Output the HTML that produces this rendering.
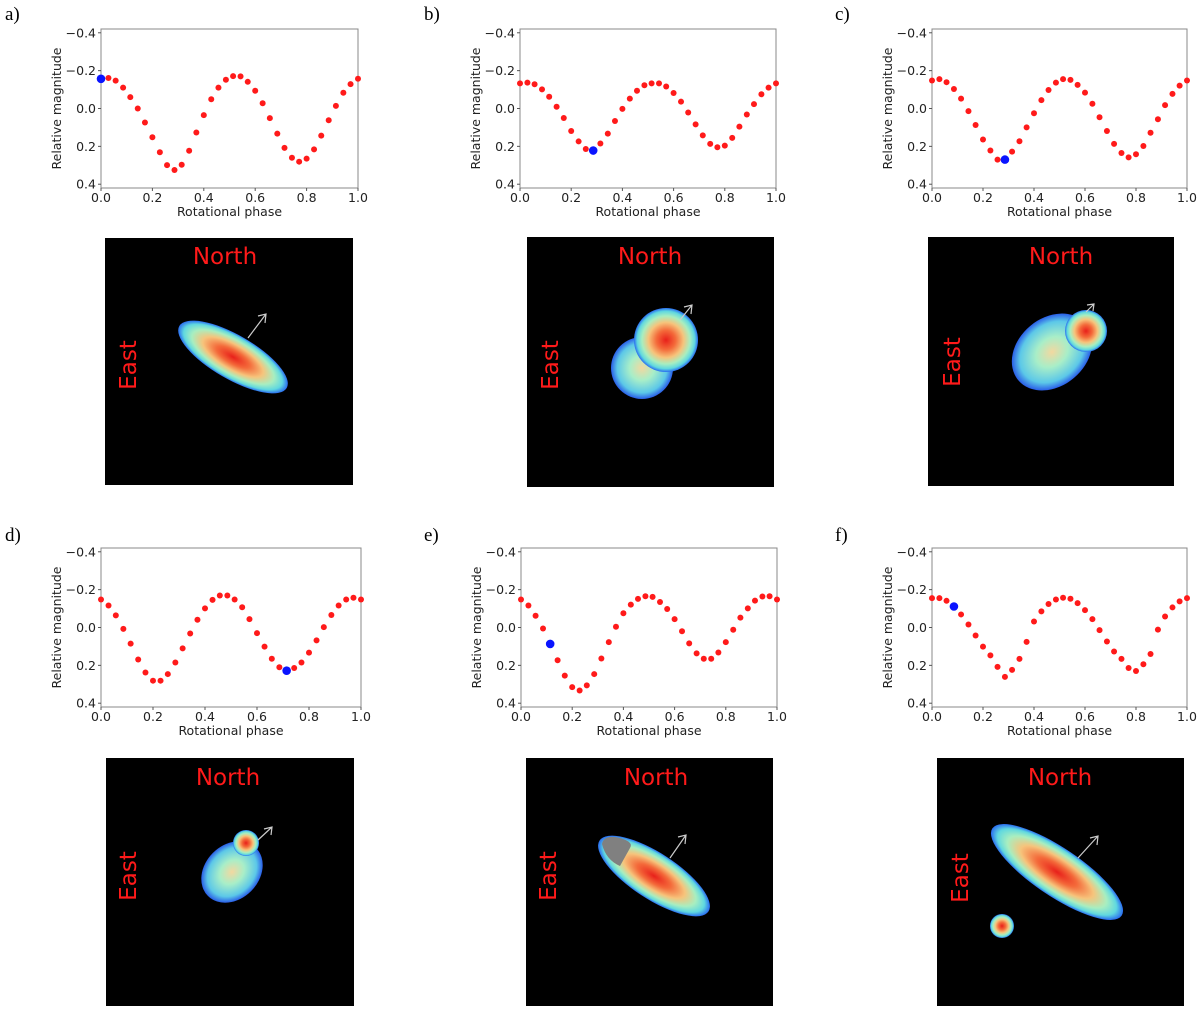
<!DOCTYPE html>
<html><head><meta charset="utf-8">
<style>
html,body{margin:0;padding:0;background:#fff;}
svg{display:block;}
text{font-family:"DejaVu Sans","Liberation Sans",sans-serif;}
.lab{font-family:"Liberation Serif",serif;font-size:19px;fill:#000;}
.tick{font-size:12.5px;fill:#222;}
.axl{font-size:12.5px;fill:#222;}
.dir{font-size:23px;fill:#ff1a1a;}
</style></head>
<body>
<svg id="fig" width="1200" height="1010" viewBox="0 0 1200 1010" xmlns="http://www.w3.org/2000/svg">
<defs>
<radialGradient id="jet" cx="50%" cy="50%" r="50%">
<stop offset="0" stop-color="#e8201a"/>
<stop offset="0.3" stop-color="#f46a3a"/>
<stop offset="0.55" stop-color="#f6c47c"/>
<stop offset="0.75" stop-color="#a8eec0"/>
<stop offset="0.9" stop-color="#5fd8e0"/>
<stop offset="1" stop-color="#2a6cf0"/>
</radialGradient>
<radialGradient id="jet2" cx="50%" cy="50%" r="50%">
<stop offset="0" stop-color="#f2d8a0"/>
<stop offset="0.4" stop-color="#a8eec8"/>
<stop offset="0.8" stop-color="#5cc8e8"/>
<stop offset="1" stop-color="#2a5ee8"/>
</radialGradient>
</defs>
<g id="charts"></g>
<g id="images">
  <!-- a -->
  <g>
    <rect x="105" y="238" width="248" height="247" fill="#000"/>
    <text class="dir" x="225" y="264" text-anchor="middle">North</text>
    <text class="dir" transform="translate(136,365) rotate(-90)" text-anchor="middle">East</text>
    <ellipse cx="233" cy="357" rx="62" ry="22" transform="rotate(30 233 357)" fill="url(#jet)"/>
    <path d="M248,338 L266,314 M258,316 L266,314 L265,323" stroke="#ccc" stroke-width="1.2" fill="none"/>
  </g>
  <!-- b -->
  <g>
    <rect x="527" y="237" width="247" height="250" fill="#000"/>
    <text class="dir" x="650" y="264" text-anchor="middle">North</text>
    <text class="dir" transform="translate(558,365) rotate(-90)" text-anchor="middle">East</text>
    <circle cx="642" cy="368" r="31" fill="url(#jet2)"/>
    <circle cx="666" cy="340" r="32" fill="url(#jet)"/>
    <path d="M680,320 L692,305 M684,307 L692,305 L691,314" stroke="#ccc" stroke-width="1.2" fill="none"/>
  </g>
  <!-- c -->
  <g>
    <rect x="928" y="237" width="246" height="249" fill="#000"/>
    <text class="dir" x="1061" y="264" text-anchor="middle">North</text>
    <text class="dir" transform="translate(960,362) rotate(-90)" text-anchor="middle">East</text>
    <ellipse cx="1052" cy="352" rx="44" ry="34" transform="rotate(-40 1052 352)" fill="url(#jet2)"/>
    <circle cx="1086" cy="331" r="21" fill="url(#jet)"/>
    <path d="M1086,312 L1094,304 M1087,305 L1094,304 L1093,311" stroke="#ccc" stroke-width="1.2" fill="none"/>
  </g>
  <!-- d -->
  <g>
    <rect x="106" y="758" width="248" height="248" fill="#000"/>
    <text class="dir" x="228" y="785" text-anchor="middle">North</text>
    <text class="dir" transform="translate(136,876) rotate(-90)" text-anchor="middle">East</text>
    <ellipse cx="232" cy="872" rx="34" ry="27" transform="rotate(-45 232 872)" fill="url(#jet2)"/>
    <circle cx="246" cy="843" r="13" fill="url(#jet)"/>
    <path d="M258,840 L272,827 M264,829 L272,827 L271,835" stroke="#ccc" stroke-width="1.2" fill="none"/>
  </g>
  <!-- e -->
  <g>
    <rect x="526" y="758" width="247" height="248" fill="#000"/>
    <text class="dir" x="656" y="785" text-anchor="middle">North</text>
    <text class="dir" transform="translate(556,876) rotate(-90)" text-anchor="middle">East</text>
    <ellipse cx="654" cy="876" rx="65" ry="23" transform="rotate(33 654 876)" fill="url(#jet)"/>
    <path d="M602,844 Q604,834 620,838 Q634,842 630,848 L620,866 Q606,860 602,844 Z" fill="#808080"/>
    <path d="M670,858 L686,835 M678,837 L686,835 L685,844" stroke="#ccc" stroke-width="1.2" fill="none"/>
  </g>
  <!-- f -->
  <g>
    <rect x="937" y="758" width="247" height="248" fill="#000"/>
    <text class="dir" x="1060" y="785" text-anchor="middle">North</text>
    <text class="dir" transform="translate(968,878) rotate(-90)" text-anchor="middle">East</text>
    <ellipse cx="1057" cy="872" rx="78" ry="24" transform="rotate(34 1057 872)" fill="url(#jet)"/>
    <circle cx="1002" cy="926" r="12" fill="url(#jet)"/>
    <path d="M1078,858 L1098,836 M1090,838 L1098,836 L1097,845" stroke="#ccc" stroke-width="1.2" fill="none"/>
  </g>
</g>
</svg>
<script>
const phase = [0,0.029,0.057,0.086,0.114,0.143,0.171,0.2,0.229,0.257,0.286,0.314,0.343,0.371,0.4,0.429,0.457,0.486,0.514,0.543,0.571,0.6,0.629,0.657,0.686,0.714,0.743,0.771,0.8,0.829,0.857,0.886,0.914,0.943,0.971,1];
const magA = [-0.157,-0.161,-0.147,-0.110,-0.060,0,0.074,0.152,0.231,0.299,0.325,0.297,0.223,0.127,0.035,-0.049,-0.110,-0.152,-0.171,-0.170,-0.141,-0.094,-0.028,0.051,0.133,0.208,0.260,0.281,0.265,0.216,0.143,0.062,-0.014,-0.083,-0.129,-0.157];
const magB = [-0.133,-0.137,-0.128,-0.101,-0.062,-0.009,0.050,0.119,0.174,0.214,0.222,0.185,0.133,0.066,0.002,-0.052,-0.094,-0.123,-0.133,-0.133,-0.116,-0.082,-0.036,0.021,0.084,0.142,0.187,0.205,0.196,0.155,0.096,0.032,-0.023,-0.075,-0.110,-0.133];
const magC = [-0.148,-0.155,-0.139,-0.103,-0.052,0.014,0.087,0.164,0.222,0.270,0.270,0.228,0.173,0.100,0.025,-0.044,-0.098,-0.137,-0.155,-0.151,-0.125,-0.084,-0.025,0.046,0.119,0.187,0.235,0.258,0.242,0.198,0.128,0.057,-0.018,-0.077,-0.121,-0.148];
const magD = [-0.148,-0.116,-0.064,0.007,0.085,0.169,0.238,0.281,0.281,0.246,0.185,0.110,0.032,-0.041,-0.101,-0.146,-0.169,-0.169,-0.148,-0.107,-0.044,0.030,0.101,0.165,0.210,0.228,0.214,0.185,0.133,0.068,-0.002,-0.066,-0.116,-0.148,-0.157,-0.148];
const magE = [-0.148,-0.116,-0.062,0.005,0.087,0.173,0.254,0.315,0.333,0.306,0.246,0.164,0.077,-0.004,-0.075,-0.121,-0.151,-0.165,-0.162,-0.135,-0.098,-0.044,0.020,0.084,0.137,0.165,0.165,0.132,0.077,0.012,-0.052,-0.101,-0.142,-0.164,-0.165,-0.148];
const magF = [-0.155,-0.155,-0.141,-0.111,-0.069,-0.016,0.042,0.101,0.147,0.208,0.261,0.224,0.166,0.076,-0.032,-0.085,-0.124,-0.148,-0.157,-0.152,-0.129,-0.092,-0.044,0.014,0.074,0.127,0.166,0.214,0.230,0.194,0.140,0.011,-0.058,-0.106,-0.138,-0.155];
const currentIndex = [0,10,10,25,4,3];
const panelLetters = ["a)","b)","c)","d)","e)","f)"];
const xTicks = [0,0.2,0.4,0.6,0.8,1.0];
const xTickLabels = ["0.0","0.2","0.4","0.6","0.8","1.0"];
const yTicks = [-0.4,-0.2,0,0.2,0.4];
const yTickLabels = ["\u22120.4","\u22120.2","0.0","0.2","0.4"];
const series = [magA,magB,magC,magD,magE,magF];

const boxes = [
  {x0:101,x1:358,y0:29,y1:188,lx:5,ly:20},
  {x0:520,x1:776,y0:29,y1:188,lx:424,ly:20},
  {x0:932,x1:1187,y0:29,y1:188,lx:835,ly:20},
  {x0:101,x1:361,y0:548,y1:707,lx:5,ly:541},
  {x0:521,x1:777,y0:548,y1:707,lx:424,ly:541},
  {x0:932,x1:1187,y0:548,y1:707,lx:835,ly:541}
];
const NS="http://www.w3.org/2000/svg";
const root=document.getElementById('charts');
function mk(tag,attrs,parent){const e=document.createElementNS(NS,tag);for(const k in attrs)e.setAttribute(k,attrs[k]);parent.appendChild(e);return e;}
const Y0=-0.42,Y1=0.42;
boxes.forEach((b,p)=>{
  const xs=v=>b.x0+(b.x1-b.x0)*v;
  const ys=v=>b.y0+(b.y1-b.y0)*(v-Y0)/(Y1-Y0);
  const g=mk('g',{},root);
  
  
  const lab=mk('text',{x:b.lx,y:b.ly,'class':'lab'},g);lab.textContent=panelLetters[p];
  
  
  const r=mk('rect',{x:b.x0,y:b.y0,width:b.x1-b.x0,height:b.y1-b.y0,fill:'none',stroke:'#888','stroke-width':1},g);
  
  
  xTicks.forEach((t,i)=>{
    mk('line',{x1:xs(t),x2:xs(t),y1:b.y1,y2:b.y1+3,stroke:'#555'},g);
    const tx=mk('text',{x:xs(t),y:b.y1+14,'text-anchor':'middle','class':'tick'},g);tx.textContent=xTickLabels[i];
    
    
  });
  yTicks.forEach((t,i)=>{
    mk('line',{x1:b.x0-3,x2:b.x0,y1:ys(t),y2:ys(t),stroke:'#555'},g);
    const tx=mk('text',{x:b.x0-5,y:ys(t)+4.5,'text-anchor':'end','class':'tick'},g);tx.textContent=yTickLabels[i];
    
    
  });
  const xl=mk('text',{x:(b.x0+b.x1)/2,y:b.y1+28,'text-anchor':'middle','class':'axl'},g);xl.textContent='Rotational phase';
  
  
  const yl=mk('text',{transform:`translate(${b.x0-40},${(b.y0+b.y1)/2}) rotate(-90)`,'text-anchor':'middle','class':'axl'},g);yl.textContent='Relative magnitude';
  
  
  const data=series[p];
  data.forEach((v,i)=>{
    if(i===currentIndex[p])return;
    const c=mk('circle',{cx:xs(phase[i]),cy:ys(v),r:3,fill:'#ff1a1a'},g);
    
    
  });
  const ci=currentIndex[p];
  const bc=mk('circle',{cx:xs(phase[ci]),cy:ys(data[ci]),r:4.3,fill:'#0a14ff'},g);
  
  
});
</script>
</body></html>
